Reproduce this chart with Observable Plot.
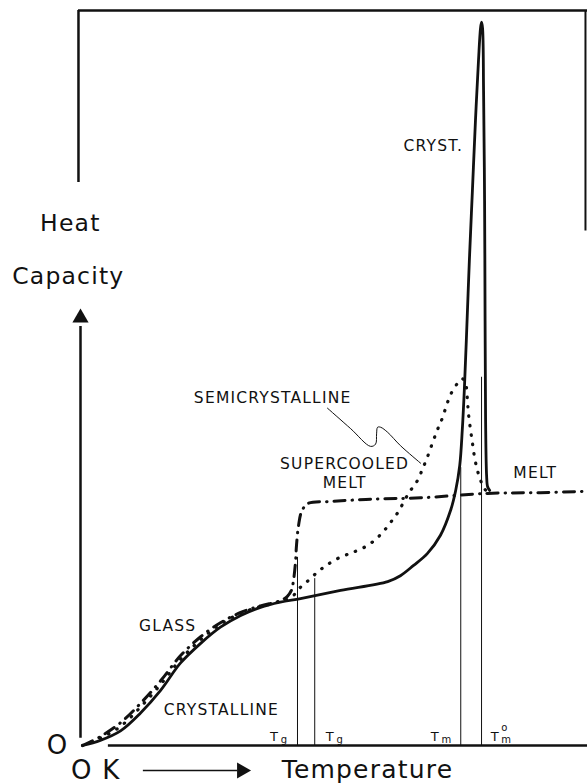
<!DOCTYPE html>
<html>
<head>
<meta charset="utf-8">
<script src="https://cdn.jsdelivr.net/npm/d3@7"></script>
<script src="https://cdn.jsdelivr.net/npm/@observablehq/plot@0.6"></script>
<style>
  html, body { margin: 0; padding: 0; background: #fff; }
</style>
</head>
<body>
<div id="chart"></div>
<script>
// Temperature (arbitrary units, 0 = 0 K) and heat capacity (arbitrary units)
const crystT  = [0.4, 3.9, 7.9, 11.8, 15.8, 19.7, 23.7, 27.6, 31.6, 35.5, 39.4, 43.4, 51.3, 60.6, 63.1, 65.7, 68.4, 71.0, 73.0, 74.0, 74.8, 75.3, 75.7, 76.1, 76.7, 77.3, 77.9, 78.5, 78.9, 79.1, 79.3, 79.5, 79.7, 79.8, 79.9, 80.1, 80.3, 80.7];
const crystCp = [0, 0.7, 2.0, 4.4, 7.5, 11.2, 13.9, 16.1, 17.7, 18.8, 19.5, 20.0, 21.1, 22.3, 23.1, 24.5, 26.1, 28.6, 32.0, 34.7, 38.1, 42.9, 48.3, 55.1, 66.0, 75.5, 85.0, 93.2, 97.6, 98.4, 97.6, 89.1, 74.1, 57.8, 44.2, 36.7, 35.2, 34.7];

const glassT  = [0.4, 3.9, 7.9, 11.8, 15.8, 19.7, 23.7, 27.6, 31.6, 35.5, 39.4, 40.8, 41.6, 42.0, 42.4, 42.6, 43.0, 43.6, 44.8, 49.3, 57.2, 67.1, 80.3, 90.7, 100];
const glassCp = [0, 1.2, 3.1, 5.7, 8.8, 12.2, 14.8, 16.7, 18.1, 19.0, 19.7, 20.3, 21.1, 22.4, 24.9, 27.2, 29.9, 31.8, 32.9, 33.2, 33.5, 33.7, 34.3, 34.4, 34.6];

const semiT  = [0.4, 3.9, 7.9, 11.8, 15.8, 19.7, 23.7, 27.6, 31.6, 35.5, 39.4, 41.8, 43.2, 45.2, 46.9, 48.5, 50.3, 52.3, 53.8, 55.8, 57.8, 59.6, 61.1, 62.5, 64.7, 66.5, 67.5, 68.4, 69.6, 70.6, 71.4, 72.4, 73.4, 74.4, 75.3, 75.9, 76.3, 76.5, 76.9, 77.3, 77.7, 78.3, 78.9, 79.5, 80.1];
const semiCp = [0, 1.0, 2.6, 5.2, 8.3, 11.7, 14.4, 16.5, 18.0, 18.9, 19.6, 20.3, 21.4, 22.6, 23.7, 24.5, 25.3, 25.9, 26.3, 26.9, 27.8, 29.0, 30.3, 31.6, 34.3, 36.1, 37.7, 39.2, 41.5, 43.3, 44.6, 46.7, 48.3, 49.3, 49.9, 49.4, 47.2, 45.3, 43.1, 41.2, 39.3, 37.4, 36.1, 35.1, 34.6];

// transition temperatures (vertical guide lines)
const transT   = [42.8, 46.2, 75.0, 79.1];
const transTop = [25.6, 22.7, 37.8, 50.1];
const transSub = ["g", "g", "m", "m"];
const transSup = ["", "", "", "o"];
const transLabelT = [38.3, 49.3, 70.0, 81.8];

// leader line from "SEMICRYSTALLINE" label to its curve
const leaderT  = [48.7, 53.3, 57.2, 58.2, 58.4, 58.6, 59.2, 60.6, 63.1, 67.1];
const leaderCp = [45.9, 43.1, 40.7, 41.0, 42.4, 43.3, 43.3, 42.6, 40.8, 38.4];

// curve annotations
const labelText = ["CRYST.", "SEMICRYSTALLINE", "SUPERCOOLED", "MELT", "MELT", "GLASS", "CRYSTALLINE"];
const labelT    = [69.6, 37.9, 52.1, 52.1, 89.7, 17.2, 27.8];
const labelCp   = [81.6, 47.3, 38.3, 35.7, 37.1, 16.3, 4.8];

const zip = (xs, ys) => xs.map((x, i) => ({x, y: ys[i]}));
const crystal = zip(crystT, crystCp);
const glass = zip(glassT, glassCp);
const semi = zip(semiT, semiCp);
const leader = zip(leaderT, leaderCp);
const trans = transT.map((t, i) => ({t, top: transTop[i], sub: transSub[i], sup: transSup[i], lt: transLabelT[i]}));
const labels = labelText.map((s, i) => ({s, x: labelT[i], y: labelCp[i]}));

const font = "DejaVu Sans";

const chart = Plot.plot({
  width: 587,
  height: 784,
  marginLeft: 80,
  marginRight: 0,
  marginTop: 10,
  marginBottom: 39,
  x: {domain: [0, 100], axis: null},
  y: {domain: [0, 100], axis: null},
  style: {background: "#fff", fontFamily: font, letterSpacing: "1.2px", color: "#111"},
  marks: [
    // frame pieces
    Plot.ruleY([100], {x1: -0.4, x2: 100, stroke: "#111", strokeWidth: 2.5}),
    Plot.ruleX([-0.4], {y1: 76.6, y2: 100, stroke: "#111", strokeWidth: 2.5}),
    Plot.ruleX([99.6], {y1: 70, y2: 100, stroke: "#111", strokeWidth: 2}),
    // axes
    Plot.ruleX([0], {y1: 1, y2: 57, stroke: "#111", strokeWidth: 2.5}),
    Plot.dot([{x: 0, y: 58.2}], {x: "x", y: "y", symbol: "triangle", r: 6, fill: "#111", stroke: "none"}),
    Plot.ruleY([0], {x1: 5.5, x2: 100, stroke: "#111", strokeWidth: 2.5}),
    // transition lines
    Plot.ruleX(trans, {x: "t", y1: 0, y2: "top", stroke: "#111", strokeWidth: 1}),
    // curves
    Plot.line(crystal, {x: "x", y: "y", curve: "catmull-rom", stroke: "#111", strokeWidth: 2.8}),
    Plot.line(glass, {x: "x", y: "y", curve: "catmull-rom", stroke: "#111", strokeWidth: 3, strokeDasharray: "11,7,0.5,7", strokeLinecap: "round"}),
    Plot.line(semi, {x: "x", y: "y", curve: "catmull-rom", stroke: "#111", strokeWidth: 3.2, strokeDasharray: "0.5,9", strokeLinecap: "round"}),
    Plot.line(leader, {x: "x", y: "y", curve: "catmull-rom", stroke: "#111", strokeWidth: 1}),
    // annotations
    Plot.text(labels, {x: "x", y: "y", text: "s", fontSize: 15.5, fill: "#111"}),
    Plot.text(trans, {x: "lt", y: 0.6, text: () => "T", fontSize: 13, lineAnchor: "bottom", fill: "#111"}),
    Plot.text(trans, {x: "lt", y: 0.6, text: "sub", fontSize: 10, lineAnchor: "bottom", textAnchor: "start", dx: 6, dy: 2, fill: "#111"}),
    Plot.text(trans, {x: "lt", y: 0.6, text: "sup", fontSize: 10, lineAnchor: "bottom", textAnchor: "start", dx: 6, dy: -10, fill: "#111"}),
    // axis titles
    Plot.text(["Heat"], {x: -2.0, y: 71.0, text: d => d, fontSize: 23.5, fill: "#111"}),
    Plot.text(["Capacity"], {x: -2.4, y: 63.8, text: d => d, fontSize: 23.5, fill: "#111"}),
    Plot.text(["O"], {x: -4.5, y: 0, text: d => d, fontSize: 26, fill: "#111"}),
    Plot.text(["O K"], {x: 3.0, y: -3.4, text: d => d, fontSize: 26, fill: "#111"}),
    Plot.ruleY([-3.4], {x1: 12.4, x2: 31.0, stroke: "#111", strokeWidth: 1.5}),
    Plot.dot([{x: 31.8, y: -3.4}], {x: "x", y: "y", symbol: "triangle", r: 6, rotate: 90, fill: "#111", stroke: "none"}),
    Plot.text(["Temperature"], {x: 56.6, y: -3.4, text: d => d, fontSize: 25, fill: "#111"})
  ]
});
document.getElementById("chart").appendChild(chart);
</script>
</body>
</html>
